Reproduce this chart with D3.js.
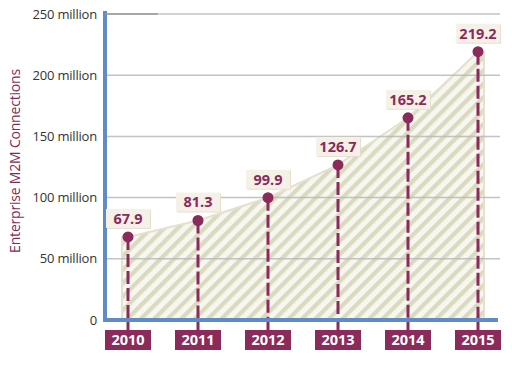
<!DOCTYPE html>
<html lang="en"><head><meta charset="utf-8">
<title>Enterprise M2M Connections</title>
<script src="https://cdn.jsdelivr.net/npm/d3@7"></script>
<style>
  body { margin: 0; background: #fff; }
  text { font-family: "Open Sans", sans-serif; }
</style>
</head>
<body>
<script>
// values
var years = ["2010", "2011", "2012", "2013", "2014", "2015"];
var connections = [67.9, 81.3, 99.9, 126.7, 165.2, 219.2];
var tickValues = [0, 50, 100, 150, 200, 250];
var tickLabels = ["0", "50 million", "100 million", "150 million", "200 million", "250 million"];

var width = 512, height = 370;
var purple = "#8a2b5b";
var blue = "#5e8cc4";

var data = years.map(function(y, i) { return {year: y, value: connections[i]}; });

var x = d3.scalePoint().domain(years).range([128, 478]);
var y = d3.scaleLinear().domain([0, 250]).range([320, 14]);

var svg = d3.select("body").append("svg")
    .attr("width", width)
    .attr("height", height);

// hatch pattern
var defs = svg.append("defs");
var pat = defs.append("pattern")
    .attr("id", "hatch")
    .attr("patternUnits", "userSpaceOnUse")
    .attr("width", 9.5).attr("height", 9.5)
    .attr("patternTransform", "rotate(45)");
pat.append("rect").attr("width", 9.5).attr("height", 9.5).attr("fill", "#f7f6ef");
pat.append("rect").attr("width", 4.2).attr("height", 9.5).attr("fill", "#d9dabf");

// area (slightly wider than first/last point)
var ext = 6;
var areaPts = [{px: x(years[0]) - ext, v: connections[0]}]
  .concat(data.map(function(d) { return {px: x(d.year), v: d.value}; }))
  .concat([{px: x(years[years.length - 1]) + ext, v: connections[connections.length - 1]}]);

var area = d3.area()
    .x(function(d) { return d.px; })
    .y0(y(0))
    .y1(function(d) { return y(d.v); });

svg.append("path")
    .datum(areaPts)
    .attr("d", area)
    .attr("fill", "url(#hatch)")
    .attr("stroke", "#e4e1cf")
    .attr("stroke-width", 2);

// gridlines
svg.append("g").selectAll("line")
    .data(tickValues.slice(1))
    .enter().append("line")
    .attr("x1", 105).attr("x2", 500)
    .attr("y1", function(d) { return y(d); })
    .attr("y2", function(d) { return y(d); })
    .attr("stroke", "#b8b8b8")
    .attr("stroke-opacity", 0.85)
    .attr("stroke-width", 1.5);

// tick labels
svg.append("g").selectAll("text")
    .data(tickValues)
    .enter().append("text")
    .attr("x", 97)
    .attr("y", function(d) { return y(d); })
    .attr("dy", "0.35em")
    .attr("text-anchor", "end")
    .attr("font-size", 13)
    .attr("letter-spacing", -0.2)
    .attr("fill", "#333")
    .text(function(d, i) { return tickLabels[i]; });

// axis title
svg.append("text")
    .attr("transform", "translate(20," + 161 + ") rotate(-90)")
    .attr("text-anchor", "middle")
    .attr("font-size", 14)
    .attr("letter-spacing", -0.2)
    .attr("fill", "#7e2d57")
    .text("Enterprise M2M Connections");

// stems: dashed above axis, solid below
var stems = svg.append("g");
stems.selectAll(".dash")
    .data(data).enter().append("line")
    .attr("class", "dash")
    .attr("x1", function(d) { return x(d.year); })
    .attr("x2", function(d) { return x(d.year); })
    .attr("y1", function(d) { return y(d.value); })
    .attr("y2", y(0))
    .attr("stroke", purple)
    .attr("stroke-width", 3)
    .attr("stroke-dasharray", "13,4");
stems.selectAll(".solid")
    .data(data).enter().append("line")
    .attr("class", "solid")
    .attr("x1", function(d) { return x(d.year); })
    .attr("x2", function(d) { return x(d.year); })
    .attr("y1", y(0))
    .attr("y2", 334)
    .attr("stroke", purple)
    .attr("stroke-width", 3);

// axis lines
svg.append("line")
    .attr("x1", 105).attr("x2", 105)
    .attr("y1", 11).attr("y2", y(0) + 2)
    .attr("stroke", blue).attr("stroke-width", 4);
svg.append("line")
    .attr("x1", 103).attr("x2", 498)
    .attr("y1", y(0)).attr("y2", y(0))
    .attr("stroke", blue).attr("stroke-width", 4);
svg.append("line")
    .attr("x1", 105).attr("x2", 158)
    .attr("y1", y(250)).attr("y2", y(250))
    .attr("stroke", "#999").attr("stroke-width", 1.5);

// dots
svg.append("g").selectAll("circle")
    .data(data).enter().append("circle")
    .attr("cx", function(d) { return x(d.year); })
    .attr("cy", function(d) { return y(d.value); })
    .attr("r", 5.5)
    .attr("fill", purple);

// value labels
var vl = svg.append("g").selectAll("g")
    .data(data).enter().append("g")
    .attr("transform", function(d) { return "translate(" + x(d.year) + "," + y(d.value) + ")"; });
vl.append("rect")
    .attr("x", -21).attr("y", -27)
    .attr("width", 44).attr("height", 19)
    .attr("fill", "#e6dfd0");
vl.append("rect")
    .attr("x", -22).attr("y", -28)
    .attr("width", 44).attr("height", 19)
    .attr("fill", "#f5f1e8");
vl.append("text")
    .attr("y", -13)
    .attr("text-anchor", "middle")
    .attr("font-size", 14.5)
    .attr("font-weight", "bold")
    .attr("fill", purple)
    .text(function(d) { return d3.format(".1f")(d.value); });

// year labels
var yl = svg.append("g").selectAll("g")
    .data(data).enter().append("g")
    .attr("transform", function(d) { return "translate(" + x(d.year) + ",330)"; });
yl.append("rect")
    .attr("x", -23).attr("y", 0)
    .attr("width", 46).attr("height", 20)
    .attr("fill", purple);
yl.append("text")
    .attr("y", 10)
    .attr("dy", "0.35em")
    .attr("text-anchor", "middle")
    .attr("font-size", 14.5)
    .attr("font-weight", "bold")
    .attr("fill", "#fff")
    .text(function(d) { return d.year; });
</script>
</body></html>
